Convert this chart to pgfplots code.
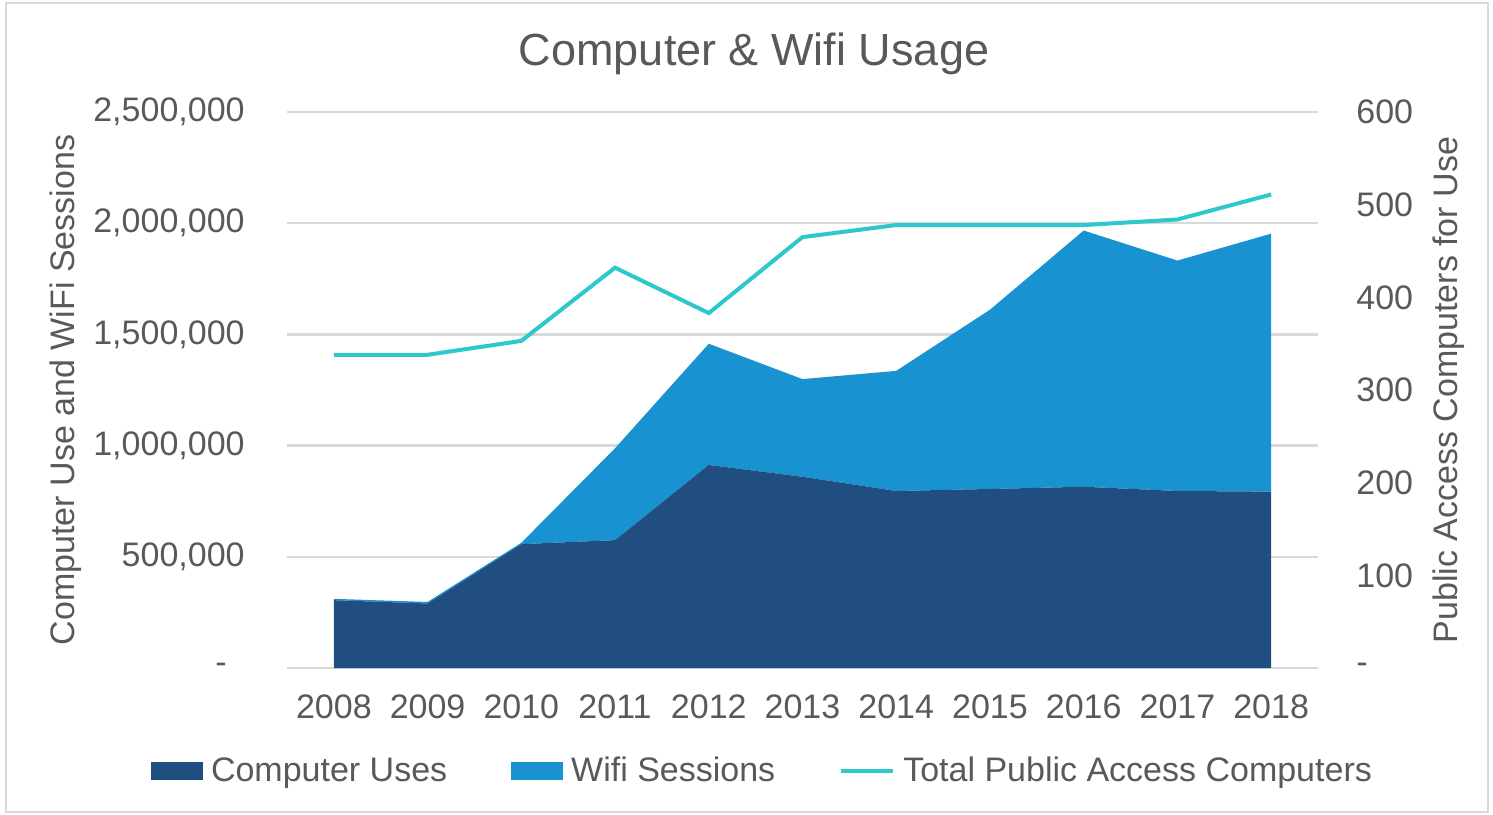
\documentclass[border=0pt]{standalone}
\usepackage{fontspec}
\setmainfont{Liberation Sans}
\usepackage{pgfplots}
\pgfplotsset{compat=1.18}
\definecolor{darkblue}{RGB}{32,78,128}
\definecolor{lightblue}{RGB}{24,146,208}
\definecolor{turq}{RGB}{44,200,204}
\definecolor{textgray}{RGB}{89,89,89}
\definecolor{gridgray}{RGB}{217,217,217}
\pgfplotsset{
  arealeg/.style={legend image code/.code={\fill[##1] (0pt,-4.5pt) rectangle (26pt,4.5pt);}},
  linelg/.style={legend image code/.code={\draw[##1] (0pt,0pt) -- (26pt,0pt);}},
}
\begin{document}
\begin{tikzpicture}
\path[use as bounding box] (-143.5pt,-73pt) rectangle (603pt,334pt);
\draw[color=gridgray, line width=1pt] (-140.5pt,-72pt) rectangle (600.5pt,332.5pt);
\begin{axis}[
  at={(0pt,0pt)}, anchor=south west,
  scale only axis, width=515.5pt, height=278pt,
  xmin=2007.5, xmax=2018.5,
  ymin=0, ymax=2500000,
  stack plots=y,
  axis line style={draw=none},
  major tick length=0pt,
  xtick={2008,2009,2010,2011,2012,2013,2014,2015,2016,2017,2018},
  xticklabels={2008,2009,2010,2011,2012,2013,2014,2015,2016,2017,2018},
  ytick={0,500000,1000000,1500000,2000000,2500000},
  yticklabels={{-\kern9pt},{500,000},{1,000,000},{1,500,000},{2,000,000},{2,500,000}},
  scaled y ticks=false,
  ymajorgrids,
  grid style={color=gridgray, line width=1.2pt},
  tick label style={font=\fontsize{17pt}{20pt}\selectfont, text=textgray},
  xticklabel style={anchor=center, inner sep=0pt, yshift=-19.25pt},
  yticklabel style={anchor=east, inner sep=0pt, xshift=-21pt},
  ylabel={Computer Use and WiFi Sessions},
  ylabel style={at={(axis description cs:-0.2145,0.5)}, anchor=center, rotate=0, font=\fontsize{17pt}{20pt}\selectfont, text=textgray},
  title={Computer \& Wifi Usage},
  title style={at={(axis description cs:0.453,1.0827)}, anchor=center, font=\fontsize{22.5pt}{26pt}\selectfont, text=textgray},
]
\addplot[fill=darkblue, draw=none] coordinates {
  (2008,305000) (2009,290000) (2010,557000) (2011,575000) (2012,913000)
  (2013,860000) (2014,796000) (2015,805000) (2016,815000) (2017,796000) (2018,793000)
} \closedcycle;
\addplot[fill=lightblue, draw=none] coordinates {
  (2008,6000) (2009,7000) (2010,6000) (2011,413000) (2012,545000)
  (2013,439000) (2014,540000) (2015,806000) (2016,1152000) (2017,1036000) (2018,1160000)
} \closedcycle;
\end{axis}
\begin{axis}[
  at={(0pt,0pt)}, anchor=south west,
  scale only axis, width=515.5pt, height=278pt,
  xmin=2007.5, xmax=2018.5,
  ymin=0, ymax=600,
  axis x line=none,
  axis y line*=right,
  y axis line style={draw=none},
  xtick=\empty,
  major tick length=0pt,
  ytick={0,100,200,300,400,500,600},
  yticklabels={-,100,200,300,400,500,600},
  tick label style={font=\fontsize{17pt}{20pt}\selectfont, text=textgray},
  yticklabel style={anchor=west, inner sep=0pt, xshift=19pt},
  ylabel={Public Access Computers for Use},
  ylabel style={at={(axis description cs:1.1271,0.5)}, anchor=center, rotate=0, font=\fontsize{17pt}{20pt}\selectfont, text=textgray},
  legend style={at={(axis description cs:0.4602,-0.1853)}, anchor=center, draw=none, fill=none,
    font=\fontsize{17pt}{20pt}\selectfont, text=textgray, legend columns=3,
    inner sep=0pt, nodes={inner sep=0pt},
    /tikz/every odd column/.append style={column sep=4pt},
    /tikz/every even column/.append style={column sep=32pt}},
  legend cell align=left,
]
\addlegendimage{fill=darkblue, draw=none, arealeg}
\addlegendentry{Computer Uses}
\addlegendimage{fill=lightblue, draw=none, arealeg}
\addlegendentry{Wifi Sessions}
\addplot[color=turq, line width=2pt, mark=none, linelg] coordinates {
  (2008,338) (2009,338) (2010,353) (2011,432) (2012,383) (2013,465)
  (2014,478) (2015,478) (2016,478) (2017,484) (2018,511)
};
\addlegendentry{Total Public Access Computers}
\end{axis}
\end{tikzpicture}
\end{document}
